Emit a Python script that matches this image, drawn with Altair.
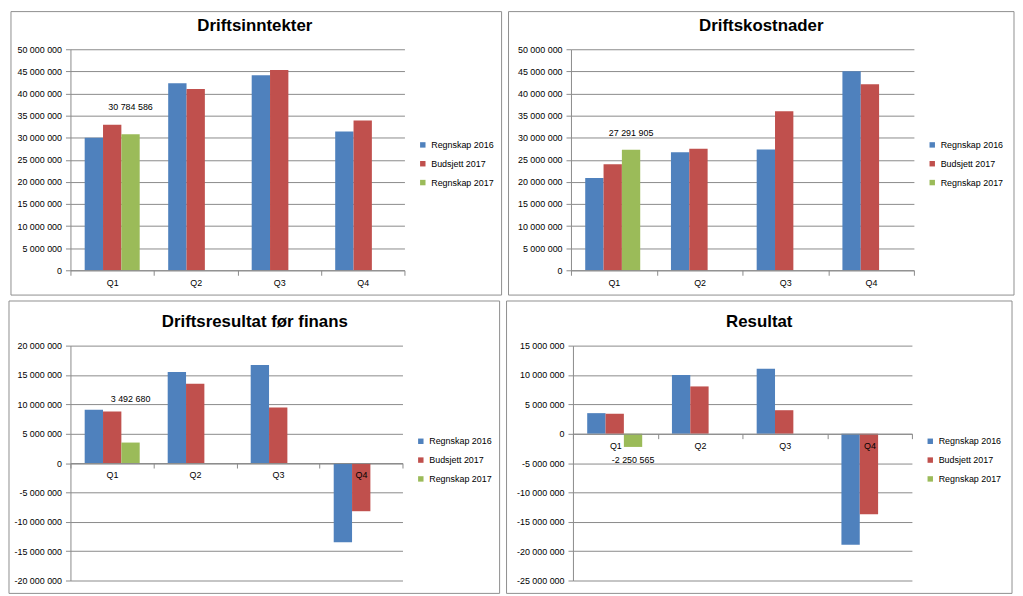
import altair as alt
import pandas as pd

quarters = ["Q1", "Q2", "Q3", "Q4"]
series = ["Regnskap 2016", "Budsjett 2017", "Regnskap 2017"]
colors = ["#4F81BD", "#C0504D", "#9BBB59"]

# Driftsinntekter
inn_r16 = [30000000, 42300000, 44100000, 31400000]
inn_b17 = [32900000, 41000000, 45300000, 33900000]
inn_r17 = [30784586]

# Driftskostnader
kost_r16 = [20900000, 26700000, 27300000, 45000000]
kost_b17 = [24000000, 27500000, 36000000, 42100000]
kost_r17 = [27291905]

# Driftsresultat før finans
dres_r16 = [9100000, 15500000, 16700000, -13500000]
dres_b17 = [8800000, 13500000, 9450000, -8200000]
dres_r17 = [3492680]

# Resultat
res_r16 = [3500000, 10000000, 11050000, -18900000]
res_b17 = [3400000, 8050000, 4000000, -13700000]
res_r17 = [-2250565]

FONT = "Liberation Sans"
GRID = "#8a8a8a"
BORDER = "#8f8f8f"


def panel(title, r16, b17, r17, ymin, ymax, W, H, L, R, T, B, label_dy, title_x, title_y):
    rows = []
    for q, v in zip(quarters, r16):
        rows.append({"Kvartal": q, "Serie": series[0], "Verdi": v})
    for q, v in zip(quarters, b17):
        rows.append({"Kvartal": q, "Serie": series[1], "Verdi": v})
    for q, v in zip(quarters, r17):
        rows.append({"Kvartal": q, "Serie": series[2], "Verdi": v})
    df = pd.DataFrame(rows)

    zero_from_bottom = H * (0 - ymin) / (ymax - ymin)
    xenc = alt.X(
        "Kvartal:N",
        scale=alt.Scale(domain=quarters, paddingInner=0, paddingOuter=0),
        axis=alt.Axis(
            title=None, labelAngle=0, tickBand="extent", offset=-zero_from_bottom,
            domainColor=GRID, tickColor=GRID, tickSize=5, labelFontSize=9,
            labelFont=FONT, labelColor="#000000", labelPadding=3, grid=False, zindex=1,
        ),
    )
    yenc = alt.Y(
        "Verdi:Q",
        scale=alt.Scale(domain=[ymin, ymax], nice=False, zero=False),
        axis=alt.Axis(
            title=None, values=list(range(ymin, ymax + 1, 5000000)), format=",d",
            grid=True, gridColor=GRID, gridWidth=1, domainColor=GRID, tickColor=GRID,
            tickSize=5, labelFontSize=9, labelFont=FONT, labelColor="#000000", labelPadding=4,
        ),
    )
    xoff = alt.XOffset(
        "Serie:N", scale=alt.Scale(domain=series, paddingInner=0, paddingOuter=0.777)
    )
    base = alt.Chart(df)
    bars = base.mark_bar().encode(
        x=xenc,
        xOffset=xoff,
        y=yenc,
        color=alt.Color(
            "Serie:N",
            scale=alt.Scale(domain=series, range=colors),
            legend=alt.Legend(
                title=None, orient="none", legendX=W + 14, legendY=92,
                symbolType="square", symbolSize=30, symbolStrokeWidth=0,
                labelFontSize=9, labelFont=FONT, labelColor="#000000",
                rowPadding=9, padding=0, labelOffset=4,
            ),
        ),
    )
    labels = base.transform_filter(alt.datum.Serie == series[2]).mark_text(
        fontSize=9, font=FONT, dy=label_dy, baseline="middle", color="#000000"
    ).encode(x=xenc, xOffset=xoff, y=yenc, text=alt.Text("Verdi:Q", format=",d"))

    ttl = alt.Chart(pd.DataFrame({"t": [title]})).mark_text(
        font=FONT, fontSize=17, fontWeight="bold", align="center", baseline="middle",
        color="#000000",
    ).encode(x=alt.value(title_x), y=alt.value(title_y), text="t:N")

    border = alt.Chart(pd.DataFrame({"b": [0]})).mark_rect(
        fill="white", fillOpacity=0, stroke=BORDER, strokeWidth=1
    ).encode(x=alt.value(-L), x2=alt.value(W + R), y=alt.value(-T), y2=alt.value(H + B))

    return alt.layer(border, bars, labels, ttl).properties(width=W, height=H)


p1 = panel("Driftsinntekter", inn_r16, inn_b17, inn_r17, 0, 50000000,
           337, 223, 60, 98, 38, 25, -27, 186, -23)
p2 = panel("Driftskostnader", kost_r16, kost_b17, kost_r17, 0, 50000000,
           346, 223, 63, 101, 38, 25, -17, 192, -23)
p3 = panel("Driftsresultat før finans", dres_r16, dres_b17, dres_r17, -20000000, 20000000,
           335, 237, 62, 98, 45, 13, -44, 186, -24)
p4 = panel("Resultat", res_r16, res_b17, res_r17, -25000000, 15000000,
           342, 237, 67, 101, 45, 13, 13, 188, -24)

row1 = alt.hconcat(p1, p2, spacing=5).resolve_legend(color="independent").resolve_scale(color="independent")
row2 = alt.hconcat(p3, p4, spacing=5).resolve_legend(color="independent").resolve_scale(color="independent")

chart = (
    alt.vconcat(row1, row2, spacing=4)
    .resolve_legend(color="independent")
    .resolve_scale(color="independent")
    .properties(padding=0)
    .configure(
        locale=alt.Locale(
            number=alt.NumberLocale(
                decimal=",", thousands=" ", grouping=[3], currency=["", " kr"], minus="-"
            )
        )
    )
    .configure_view(stroke="transparent")
)

chart.save("out.html", embed_options={"renderer": "svg", "actions": False})
